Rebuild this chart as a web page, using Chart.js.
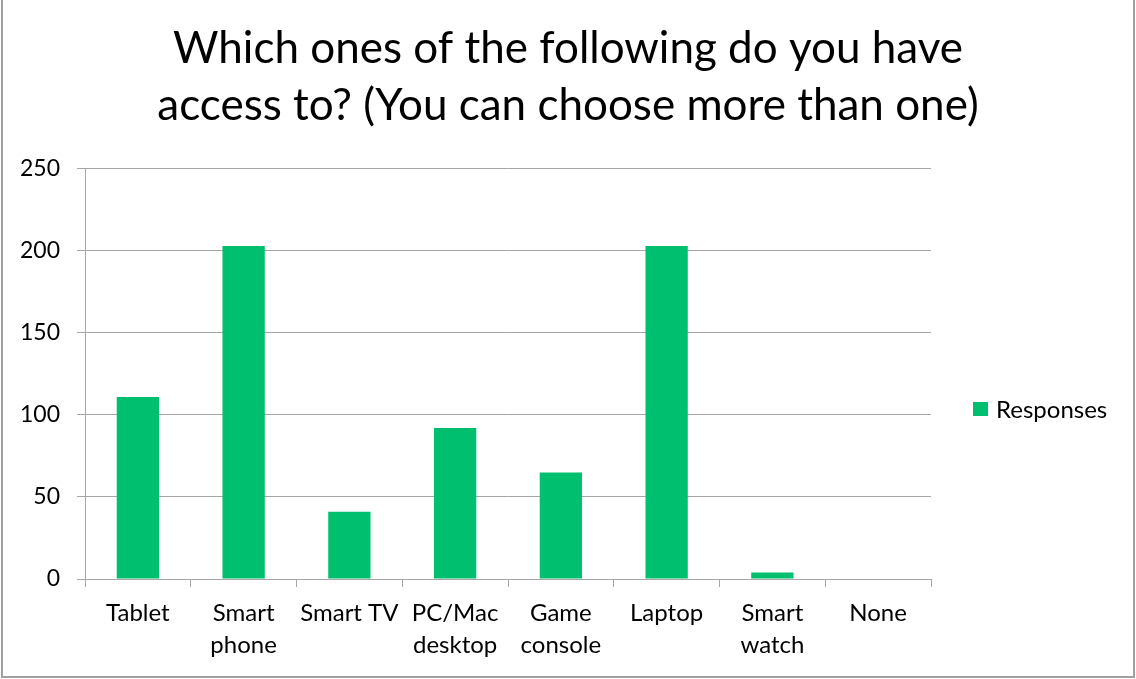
<!DOCTYPE html>
<html>
<head>
<meta charset="utf-8">
<script src="https://cdn.jsdelivr.net/npm/chart.js@4.4.1/dist/chart.umd.min.js"></script>
<style>
  html, body { margin: 0; padding: 0; background: #ffffff; }
  #wrap { width: 1136px; height: 679px; position: relative; }
</style>
</head>
<body>
<div id="wrap"><canvas id="chart" width="1136" height="679"></canvas></div>
<script>
// Survey question, device categories and response counts
const titleLines = ['Which ones of the following do you have', 'access to? (You can choose more than one)'];
const categories = [
  'Tablet', ['Smart', 'phone'], 'Smart TV', ['PC/Mac', 'desktop'],
  ['Game', 'console'], 'Laptop', ['Smart', 'watch'], 'None'
];
const responses = [111, 203, 41, 92, 65, 203, 4, 0];
const seriesName = 'Responses';
const yTicks = { min: 0, max: 250, step: 50 };

const FONT = 'Lato, "Open Sans", sans-serif';
const BAR_COLOR = '#00C06F';
const GRID_COLOR = '#A6A6A6';

// Frame around the whole chart
const framePlugin = {
  id: 'frame',
  beforeDraw(chart) {
    const c = chart.ctx;
    c.save();
    c.fillStyle = '#ffffff';
    c.fillRect(0, 0, chart.width, chart.height);
    c.strokeStyle = '#A0A0A0';
    c.lineWidth = 2;
    c.beginPath();
    c.moveTo(2, 0);
    c.lineTo(2, chart.height - 2);
    c.lineTo(chart.width - 2, chart.height - 2);
    c.lineTo(chart.width - 2, 0);
    c.stroke();
    c.restore();
  }
};

// Legend at the right, beside the plot
const sideLegend = {
  id: 'sideLegend',
  afterDraw(chart) {
    const c = chart.ctx;
    const ds = chart.data.datasets[0];
    const x = chart.chartArea.right + 42;
    const y = 409;
    c.save();
    c.fillStyle = ds.backgroundColor;
    c.fillRect(x, y - 7, 15, 14);
    c.fillStyle = '#000000';
    c.font = '24px ' + FONT;
    c.textBaseline = 'middle';
    c.textAlign = 'left';
    c.fillText(ds.label, x + 23, y + 1);
    c.restore();
  }
};

new Chart(document.getElementById('chart'), {
  type: 'bar',
  data: {
    labels: categories,
    datasets: [{
      label: seriesName,
      data: responses,
      backgroundColor: BAR_COLOR,
      borderWidth: 0,
      categoryPercentage: 0.8,
      barPercentage: 0.5
    }]
  },
  options: {
    responsive: false,
    animation: false,
    devicePixelRatio: 1,
    layout: { padding: 0 },
    plugins: {
      legend: { display: false },
      tooltip: { enabled: false },
      title: {
        display: true,
        text: titleLines,
        color: '#000000',
        font: { family: FONT, size: 44, weight: 'normal', lineHeight: 1.295 },
        padding: { top: 20, bottom: 35 }
      }
    },
    scales: {
      x: {
        grid: {
          display: true,
          drawOnChartArea: false,
          drawTicks: true,
          tickLength: 8,
          color: GRID_COLOR,
          offset: true
        },
        border: { display: true, color: GRID_COLOR, width: 1 },
        ticks: {
          color: '#000000',
          font: { family: FONT, size: 24, lineHeight: 1.33 },
          padding: 10,
          maxRotation: 0,
          autoSkip: false
        },
        afterFit(scale) { scale.height = 100; }
      },
      y: {
        min: yTicks.min,
        max: yTicks.max,
        grid: {
          color: GRID_COLOR,
          tickLength: 8,
          drawTicks: true
        },
        border: { display: true, color: GRID_COLOR, width: 1 },
        ticks: {
          stepSize: yTicks.step,
          color: '#000000',
          font: { family: FONT, size: 23 },
          padding: 17
        },
        afterFit(scale) { scale.width = 85; }
      },
      // empty strip on the right that holds the legend
      legendSpace: {
        type: 'linear',
        position: 'right',
        display: true,
        grid: { display: false, drawTicks: false },
        border: { display: false },
        ticks: { display: false },
        afterFit(scale) { scale.width = 205; }
      }
    }
  },
  plugins: [framePlugin, sideLegend]
});
</script>
</body>
</html>
